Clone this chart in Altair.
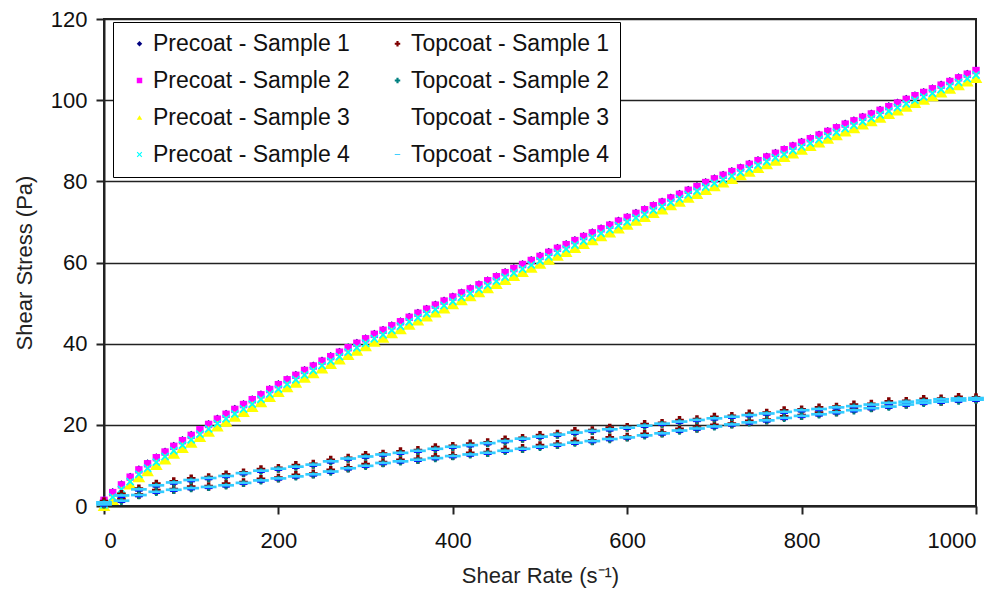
import altair as alt
import pandas as pd

# ---------------- data ----------------
shear_10 = [0, 10, 20, 30, 40, 50, 60, 70, 80, 90,
            100, 110, 120, 130, 140, 150, 160, 170, 180, 190,
            200, 210, 220, 230, 240, 250, 260, 270, 280, 290,
            300, 310, 320, 330, 340, 350, 360, 370, 380, 390,
            400, 410, 420, 430, 440, 450, 460, 470, 480, 490,
            500, 510, 520, 530, 540, 550, 560, 570, 580, 590,
            600, 610, 620, 630, 640, 650, 660, 670, 680, 690,
            700, 710, 720, 730, 740, 750, 760, 770, 780, 790,
            800, 810, 820, 830, 840, 850, 860, 870, 880, 890,
            900, 910, 920, 930, 940, 950, 960, 970, 980, 990,
            1000]

shear_20 = [0, 20, 40, 60, 80, 100, 120, 140, 160, 180,
            200, 220, 240, 260, 280, 300, 320, 340, 360, 380,
            400, 420, 440, 460, 480, 500, 520, 540, 560, 580,
            600, 620, 640, 660, 680, 700, 720, 740, 760, 780,
            800, 820, 840, 860, 880, 900, 920, 940, 960, 980,
            1000]

precoat_1 = [1.8, 3.7, 5.6, 7.5, 9.3, 10.8, 12.3, 13.7, 15.1, 16.5,
             17.8, 19.2, 20.5, 21.8, 23.0, 24.2, 25.4, 26.6, 27.8, 29.1,
             30.3, 31.5, 32.6, 33.8, 34.9, 36.1, 37.2, 38.3, 39.4, 40.5,
             41.6, 42.7, 43.7, 44.8, 45.8, 46.9, 47.9, 48.9, 49.9, 50.9,
             51.9, 52.9, 53.9, 54.9, 55.9, 56.9, 57.9, 58.9, 59.9, 60.9,
             61.9, 62.9, 63.9, 64.8, 65.8, 66.8, 67.7, 68.7, 69.6, 70.6,
             71.5, 72.5, 73.4, 74.4, 75.3, 76.3, 77.2, 78.2, 79.1, 80.1,
             81.0, 81.9, 82.8, 83.7, 84.6, 85.5, 86.4, 87.3, 88.2, 89.1,
             90.0, 90.9, 91.8, 92.7, 93.6, 94.5, 95.3, 96.2, 97.0, 97.9,
             98.8, 99.7, 100.6, 101.5, 102.3, 103.2, 104.1, 105.0, 105.9, 106.8,
             107.7]

precoat_2 = [1.4, 3.3, 5.2, 7.1, 8.9, 10.4, 11.9, 13.3, 14.7, 16.1,
             17.4, 18.8, 20.1, 21.4, 22.6, 23.8, 25.0, 26.2, 27.4, 28.7,
             29.9, 31.1, 32.2, 33.4, 34.5, 35.7, 36.8, 37.9, 39.0, 40.1,
             41.2, 42.3, 43.3, 44.4, 45.4, 46.5, 47.5, 48.5, 49.5, 50.5,
             51.5, 52.5, 53.5, 54.5, 55.5, 56.5, 57.5, 58.5, 59.5, 60.5,
             61.5, 62.5, 63.5, 64.4, 65.4, 66.4, 67.3, 68.3, 69.2, 70.2,
             71.1, 72.1, 73.0, 74.0, 74.9, 75.9, 76.8, 77.8, 78.7, 79.7,
             80.6, 81.5, 82.4, 83.3, 84.2, 85.1, 86.0, 86.9, 87.8, 88.7,
             89.6, 90.5, 91.4, 92.3, 93.2, 94.1, 94.9, 95.8, 96.6, 97.5,
             98.4, 99.3, 100.2, 101.1, 101.9, 102.8, 103.7, 104.6, 105.5, 106.4,
             107.3]

precoat_3 = [0.1, 1.6, 3.5, 5.4, 7.2, 8.7, 10.2, 11.6, 13.0, 14.4,
             15.7, 17.1, 18.4, 19.7, 20.9, 22.1, 23.3, 24.5, 25.7, 27.0,
             28.2, 29.4, 30.5, 31.7, 32.8, 34.0, 35.1, 36.2, 37.3, 38.4,
             39.5, 40.6, 41.6, 42.7, 43.7, 44.8, 45.8, 46.8, 47.8, 48.8,
             49.8, 50.8, 51.8, 52.8, 53.8, 54.8, 55.8, 56.8, 57.8, 58.8,
             59.8, 60.8, 61.8, 62.7, 63.7, 64.7, 65.6, 66.6, 67.5, 68.5,
             69.4, 70.4, 71.3, 72.3, 73.2, 74.2, 75.1, 76.1, 77.0, 78.0,
             78.9, 79.8, 80.7, 81.6, 82.5, 83.4, 84.3, 85.2, 86.1, 87.0,
             87.9, 88.8, 89.7, 90.6, 91.5, 92.4, 93.2, 94.1, 94.9, 95.8,
             96.7, 97.6, 98.5, 99.4, 100.2, 101.1, 102.0, 102.9, 103.8, 104.7,
             105.6]

precoat_4 = [0.3, 2.2, 4.1, 6.0, 7.8, 9.3, 10.8, 12.2, 13.6, 15.0,
             16.3, 17.7, 19.0, 20.3, 21.5, 22.7, 23.9, 25.1, 26.3, 27.6,
             28.8, 30.0, 31.1, 32.3, 33.4, 34.6, 35.7, 36.8, 37.9, 39.0,
             40.1, 41.2, 42.2, 43.3, 44.3, 45.4, 46.4, 47.4, 48.4, 49.4,
             50.4, 51.4, 52.4, 53.4, 54.4, 55.4, 56.4, 57.4, 58.4, 59.4,
             60.4, 61.4, 62.4, 63.3, 64.3, 65.3, 66.2, 67.2, 68.1, 69.1,
             70.0, 71.0, 71.9, 72.9, 73.8, 74.8, 75.7, 76.7, 77.6, 78.6,
             79.5, 80.4, 81.3, 82.2, 83.1, 84.0, 84.9, 85.8, 86.7, 87.6,
             88.5, 89.4, 90.3, 91.2, 92.1, 93.0, 93.8, 94.7, 95.5, 96.4,
             97.3, 98.2, 99.1, 100.0, 100.8, 101.7, 102.6, 103.5, 104.4, 105.3,
             106.2]

# topcoat: up-sweep (upper branch) and down-sweep (lower branch)
topcoat_1_up = [1.1, 2.9, 4.2, 5.4, 6.0, 6.7, 7.0, 7.7, 8.2, 9.0,
                9.3, 10.0, 10.3, 11.3, 11.8, 12.5, 12.8, 13.4, 13.7, 14.4,
                14.7, 15.3, 15.6, 16.3, 16.7, 17.4, 17.7, 18.4, 18.6, 19.2,
                19.4, 20.1, 20.4, 21.1, 21.3, 21.9, 22.1, 22.7, 22.9, 23.5,
                23.7, 24.2, 24.4, 24.9, 25.1, 25.7, 25.8, 26.3, 26.4, 26.8,
                26.7]
topcoat_1_down = [0.5, 1.6, 2.8, 3.8, 4.1, 4.7, 4.8, 5.4, 5.8, 6.6,
                  6.9, 7.6, 7.9, 8.8, 9.4, 10.2, 10.7, 11.3, 11.5, 12.1,
                  12.4, 13.0, 13.2, 13.9, 14.2, 14.9, 15.2, 15.9, 16.1, 16.8,
                  17.0, 17.7, 18.0, 18.9, 19.2, 19.9, 20.2, 20.9, 21.2, 22.0,
                  22.3, 22.9, 23.2, 23.9, 24.2, 24.8, 25.1, 25.7, 25.8, 26.3,
                  26.4]
topcoat_2_up = [0.7, 2.3, 3.9, 4.9, 5.6, 6.2, 6.7, 7.2, 7.9, 8.5,
                9.0, 9.5, 10.0, 10.8, 11.5, 12.0, 12.5, 12.9, 13.4, 13.9,
                14.4, 14.8, 15.3, 15.8, 16.4, 16.9, 17.4, 17.9, 18.3, 18.7,
                19.1, 19.6, 20.1, 20.6, 21.0, 21.4, 21.8, 22.2, 22.6, 23.0,
                23.4, 23.7, 24.1, 24.4, 24.8, 25.2, 25.5, 25.8, 26.1, 26.3,
                26.4]
topcoat_2_down = [0.2, 1.1, 2.5, 3.3, 3.8, 4.2, 4.5, 4.9, 5.5, 6.1,
                  6.6, 7.1, 7.6, 8.3, 9.1, 9.7, 10.4, 10.8, 11.2, 11.6,
                  12.1, 12.5, 12.9, 13.4, 13.9, 14.4, 14.9, 15.4, 15.8, 16.3,
                  16.7, 17.2, 17.7, 18.4, 18.9, 19.4, 19.9, 20.4, 20.9, 21.5,
                  22.0, 22.4, 22.9, 23.4, 23.9, 24.3, 24.8, 25.2, 25.5, 25.8,
                  26.0]
topcoat_3_up = [0.6, 2.2, 3.8, 4.8, 5.5, 6.1, 6.6, 7.1, 7.8, 8.4,
                8.9, 9.4, 9.9, 10.7, 11.4, 11.9, 12.4, 12.8, 13.3, 13.8,
                14.3, 14.7, 15.2, 15.7, 16.3, 16.8, 17.3, 17.8, 18.2, 18.6,
                19.0, 19.5, 20.0, 20.5, 20.9, 21.3, 21.7, 22.1, 22.5, 22.9,
                23.3, 23.6, 24.0, 24.3, 24.7, 25.1, 25.4, 25.7, 26.0, 26.2,
                26.3]
topcoat_3_down = [0.1, 1.0, 2.4, 3.2, 3.7, 4.1, 4.4, 4.8, 5.4, 6.0,
                  6.5, 7.0, 7.5, 8.2, 9.0, 9.6, 10.3, 10.7, 11.1, 11.5,
                  12.0, 12.4, 12.8, 13.3, 13.8, 14.3, 14.8, 15.3, 15.7, 16.2,
                  16.6, 17.1, 17.6, 18.3, 18.8, 19.3, 19.8, 20.3, 20.8, 21.4,
                  21.9, 22.3, 22.8, 23.3, 23.8, 24.2, 24.7, 25.1, 25.4, 25.7,
                  25.9]
topcoat_4_up = [0.9, 2.6, 4.1, 5.1, 5.8, 6.4, 6.9, 7.4, 8.1, 8.7,
                9.2, 9.7, 10.2, 11.0, 11.7, 12.2, 12.7, 13.1, 13.6, 14.1,
                14.6, 15.0, 15.5, 16.0, 16.6, 17.1, 17.6, 18.1, 18.5, 18.9,
                19.3, 19.8, 20.3, 20.8, 21.2, 21.6, 22.0, 22.4, 22.8, 23.2,
                23.6, 23.9, 24.3, 24.6, 25.0, 25.4, 25.7, 26.0, 26.3, 26.5,
                26.6]
topcoat_4_down = [0.4, 1.3, 2.7, 3.5, 4.0, 4.4, 4.7, 5.1, 5.7, 6.3,
                  6.8, 7.3, 7.8, 8.5, 9.3, 9.9, 10.6, 11.0, 11.4, 11.8,
                  12.3, 12.7, 13.1, 13.6, 14.1, 14.6, 15.1, 15.6, 16.0, 16.5,
                  16.9, 17.4, 17.9, 18.6, 19.1, 19.6, 20.1, 20.6, 21.1, 21.7,
                  22.2, 22.6, 23.1, 23.6, 24.1, 24.5, 25.0, 25.4, 25.7, 26.0,
                  26.2]

x_ticks = [0, 200, 400, 600, 800, 1000]
y_ticks = [0, 20, 40, 60, 80, 100, 120]

P1, P2, P3, P4 = ("Precoat - Sample 1", "Precoat - Sample 2",
                  "Precoat - Sample 3", "Precoat - Sample 4")
T1, T2, T3, T4 = ("Topcoat - Sample 1", "Topcoat - Sample 2",
                  "Topcoat - Sample 3", "Topcoat - Sample 4")

# legend order (column-major, two columns) = drawing order
legend_order = [P1, P2, P3, P4, T1, T2, T3, T4]

# ---------------- styling ----------------
X_SHAPE = ("M-1,-0.7L-0.7,-1L0,-0.3L0.7,-1L1,-0.7L0.3,0L1,0.7L0.7,1"
           "L0,0.3L-0.7,1L-1,0.7L-0.3,0Z")
DASH_THIN = "M-1,-0.25L1,-0.25L1,0.25L-1,0.25Z"
DASH_LONG = "M-1,-0.17L1,-0.17L1,0.17L-1,0.17Z"
# legend colour, shape, plotted size
style = {
    P1: ("#000080", "diamond", 34),
    P2: ("#FF00FF", "square", 55),
    P3: ("#FFFF00", "triangle-up", 160),
    P4: ("#00FFFF", X_SHAPE, 70),
    T1: ("#800000", "cross", 75),
    T2: ("#008080", "cross", 45),
    T3: ("#FFFFFF", DASH_THIN, 60),      # no marker shown in the legend
    T4: ("#33CCFF", DASH_LONG, 250),
}
T3_COLOR = "#0000FF"                     # colour of its plotted points

# ---------------- table ----------------
rows = []
for name, xs, ys in [
    (P1, shear_10, precoat_1), (P2, shear_10, precoat_2),
    (P3, shear_10, precoat_3), (P4, shear_10, precoat_4),
    (T1, shear_20, topcoat_1_up), (T1, shear_20, topcoat_1_down),
    (T2, shear_20, topcoat_2_up), (T2, shear_20, topcoat_2_down),
    (T3, shear_20, topcoat_3_up), (T3, shear_20, topcoat_3_down),
    (T4, shear_20, topcoat_4_up), (T4, shear_20, topcoat_4_down),
]:
    for x, y in zip(xs, ys):
        rows.append({"series": name, "shear": x, "stress": y})
df = pd.DataFrame(rows)

FONT = "Liberation Sans"

legend = alt.Legend(
    title=None,
    orient="none",
    legendX=9,
    legendY=3,
    columns=2,
    columnPadding=31,
    rowPadding=13,
    padding=10,
    symbolOffset=5,
    symbolSize=30,
    labelOffset=2,
    labelFont=FONT,
    labelFontSize=23,
    labelColor="#111111",
    labelLimit=400,
    fillColor="white",
    strokeColor="black",
)


def dom_scale(idx):
    return alt.Scale(domain=legend_order,
                     range=[style[s][idx] for s in legend_order])


x_enc = alt.X("shear:Q",
              scale=alt.Scale(domain=[0, 1000], nice=False, zero=True),
              axis=alt.Axis(values=x_ticks, format="d", title="Shear Rate (s⁻¹)",
                            grid=False, labelPadding=16, titlePadding=14))
y_enc = alt.Y("stress:Q",
              scale=alt.Scale(domain=[0, 120], nice=False),
              axis=alt.Axis(values=y_ticks, format="d", title="Shear Stress (Pa)",
                            grid=True, labelPadding=9, titlePadding=14))

base = alt.Chart(df)
layers = []
for s in legend_order:
    sub = base.transform_filter(alt.datum.series == s)
    if s == T3:
        # plotted in blue; its legend entry keeps the white (invisible) symbol
        layer = sub.mark_point(filled=True, strokeWidth=0, opacity=1,
                               size=style[s][2], shape=style[s][1],
                               color=T3_COLOR).encode(x=x_enc, y=y_enc)
    else:
        layer = sub.mark_point(filled=True, strokeWidth=0, opacity=1,
                               size=style[s][2]).encode(
            x=x_enc,
            y=y_enc,
            color=alt.Color("series:N", scale=dom_scale(0), legend=legend),
            shape=alt.Shape("series:N", scale=dom_scale(1), legend=legend),
        )
    layers.append(layer)

chart = alt.layer(*layers).properties(
    width=872,
    height=487,
    autosize=alt.AutoSizeParams(type="none"),
    padding={"left": 96, "top": 11, "right": 20, "bottom": 95},
    background="white",
).configure_view(
    stroke="#222222",
    strokeWidth=2,
).configure_axis(
    domainColor="#222222",
    domainWidth=2,
    tickColor="#222222",
    tickWidth=2,
    tickSize=8,
    gridColor="#222222",
    gridWidth=1.6,
    labelFont=FONT,
    labelFontSize=22,
    labelColor="#111111",
    titleFont=FONT,
    titleFontSize=22,
    titleFontWeight="normal",
    titleColor="#222222",
)

chart.save("out.html", embed_options={"renderer": "svg", "actions": False})
